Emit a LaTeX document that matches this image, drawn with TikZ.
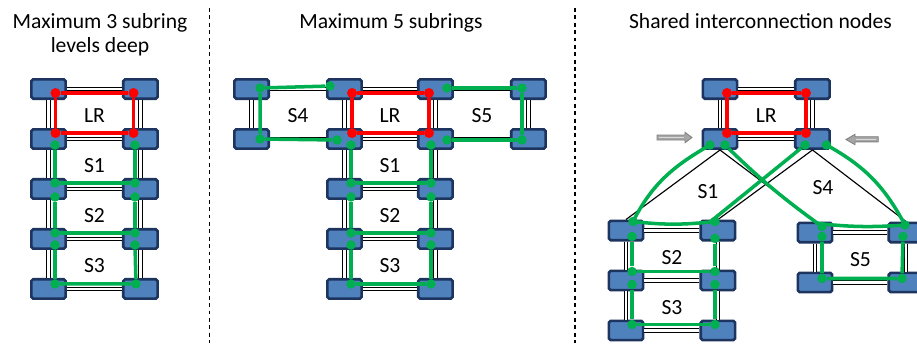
\documentclass[tikz,border=0pt]{standalone}
\usepackage{fontspec}
\setmainfont{Carlito}
\usetikzlibrary{positioning}
\usetikzlibrary{calc}

\definecolor{nodeblue}{RGB}{79,129,189}
\definecolor{nodeedge}{RGB}{28,52,94}
\definecolor{ringred}{RGB}{255,0,0}
\definecolor{ringgreen}{RGB}{0,176,80}

\begin{document}
\begin{tikzpicture}[
        % one unit is one pixel of the layout, y runs downwards
        x=0.02cm, y=-0.02cm,
        ringnode/.style={
            draw=nodeedge,
            fill=nodeblue,
            rectangle,
            rounded corners=1pt,
            line width=1.5pt,
            minimum width=0.687cm,
            minimum height=0.387cm,
            inner sep=0pt
        },
        dlink/.style={
            draw=black, double=white, line width=0.5pt, double distance=1.4pt
        },
        slink/.style={draw=black, line width=0.65pt},
        lrring/.style={draw=ringred, line width=2.1pt},
        subring/.style={draw=ringgreen, line width=2.0pt},
        rdot/.style={circle, fill=ringred, inner sep=0pt, minimum size=0.2cm},
        gdot/.style={circle, fill=ringgreen, inner sep=0pt, minimum size=0.19cm},
        ringlabel/.style={
            font=\fontsize{12.3}{13.3}\selectfont, inner sep=0pt, yshift=-0.04cm
        },
        paneltitle/.style={
            font=\fontsize{12.3}{13.3}\selectfont, align=center, anchor=north, inner sep=0pt
        },
        sepline/.style={draw=black, line width=0.7pt, dash pattern=on 2.2pt off 2pt},
        pusharrow/.style={fill=gray!70, draw=gray, line width=0.5pt},
        pushstripe/.style={draw=gray!30, line width=0.7pt}
        ]

        \useasboundingbox (0,0) rectangle (917,343);

        % titles and separators
        \node [paneltitle] (title1) at (100,13.3) {Maximum 3 subring\\levels deep};
        \node [paneltitle] (title2) at (391,13.3) {Maximum 5 subrings};
        \node [paneltitle] (title3) at (760.5,13.3) {Shared interconnection nodes};
        \draw [sepline] (209.5,8) -- (209.5,343);
        \draw [sepline] (575,8) -- (575,343);

        %%% panel 1: one stack of subrings
        \node [ringnode] (p1_l1) at (48.5,89) {};
        \node [ringnode, xshift=1.84cm] (p1_r1) at (p1_l1) {};
        \node [ringnode, yshift=-1cm] (p1_l2) at (p1_l1) {};
        \node [ringnode, yshift=-1cm] (p1_r2) at (p1_r1) {};
        \node [ringnode, yshift=-1cm] (p1_l3) at (p1_l2) {};
        \node [ringnode, yshift=-1cm] (p1_r3) at (p1_r2) {};
        \node [ringnode, yshift=-1cm] (p1_l4) at (p1_l3) {};
        \node [ringnode, yshift=-1cm] (p1_r4) at (p1_r3) {};
        \node [ringnode, yshift=-1cm] (p1_l5) at (p1_l4) {};
        \node [ringnode, yshift=-1cm] (p1_r5) at (p1_r4) {};

        \draw [dlink] (p1_l1) -- (p1_r1) (p1_l2) -- (p1_r2) (p1_l3) -- (p1_r3)
            (p1_l4) -- (p1_r4) (p1_l5) -- (p1_r5);
        \draw [dlink] (p1_l1) -- (p1_l2) (p1_l2) -- (p1_l3) (p1_l3) -- (p1_l4) (p1_l4) -- (p1_l5);
        \draw [dlink] (p1_r1) -- (p1_r2) (p1_r2) -- (p1_r3) (p1_r3) -- (p1_r4) (p1_r4) -- (p1_r5);

        \node [rdot] (p1_lr_a) at ($(p1_l1)+(7,4)$) {};
        \node [rdot] (p1_lr_b) at ($(p1_r1)+(-7,4)$) {};
        \node [rdot] (p1_lr_c) at ($(p1_r2)+(-7,-6)$) {};
        \node [rdot] (p1_lr_d) at ($(p1_l2)+(7,-6)$) {};
        \draw [lrring] (p1_lr_a) -- (p1_lr_b) -- (p1_lr_c) -- (p1_lr_d) -- (p1_lr_a);

        \node [gdot] (p1_s1_a) at ($(p1_l2)+(6.5,6)$) {};
        \node [gdot] (p1_s1_b) at ($(p1_l3)+(6.5,-6)$) {};
        \node [gdot] (p1_s1_c) at ($(p1_r3)+(-5.5,-6)$) {};
        \node [gdot] (p1_s1_d) at ($(p1_r2)+(-5.5,6)$) {};
        \draw [subring] (p1_s1_a) -- (p1_s1_b) -- (p1_s1_c) -- (p1_s1_d);

        \node [gdot] (p1_s2_a) at ($(p1_l3)+(6.5,8)$) {};
        \node [gdot] (p1_s2_b) at ($(p1_l4)+(6.5,-6)$) {};
        \node [gdot] (p1_s2_c) at ($(p1_r4)+(-5.5,-6)$) {};
        \node [gdot] (p1_s2_d) at ($(p1_r3)+(-5.5,8)$) {};
        \draw [subring] (p1_s2_a) -- (p1_s2_b) -- (p1_s2_c) -- (p1_s2_d);

        \node [gdot] (p1_s3_a) at ($(p1_l4)+(6.5,6)$) {};
        \node [gdot] (p1_s3_b) at ($(p1_l5)+(6.5,-5)$) {};
        \node [gdot] (p1_s3_c) at ($(p1_r5)+(-4.5,-5)$) {};
        \node [gdot] (p1_s3_d) at ($(p1_r4)+(-5.5,6)$) {};
        \draw [subring] (p1_s3_a) -- (p1_s3_b) -- (p1_s3_c) -- (p1_s3_d);

        \node [ringlabel] (p1_lr) at ($(p1_l1)!0.5!(p1_r2)$) {LR};
        \node [ringlabel] (p1_s1) at ($(p1_l2)!0.5!(p1_r3)$) {S1};
        \node [ringlabel] (p1_s2) at ($(p1_l3)!0.5!(p1_r4)$) {S2};
        \node [ringlabel] (p1_s3) at ($(p1_l4)!0.5!(p1_r5)$) {S3};

        %%% panel 2: two extra subrings beside the LR
        \node [ringnode] (p2_m1) at (344.5,89) {};
        \node [ringnode, xshift=1.82cm] (p2_n1) at (p2_m1) {};
        \node [ringnode, xshift=-1.86cm] (p2_w1) at (p2_m1) {};
        \node [ringnode, xshift=1.86cm] (p2_e1) at (p2_n1) {};
        \node [ringnode, yshift=-1cm] (p2_w2) at (p2_w1) {};
        \node [ringnode, yshift=-1cm] (p2_m2) at (p2_m1) {};
        \node [ringnode, yshift=-1cm] (p2_n2) at (p2_n1) {};
        \node [ringnode, yshift=-1cm] (p2_e2) at (p2_e1) {};
        \node [ringnode, yshift=-1cm] (p2_m3) at (p2_m2) {};
        \node [ringnode, yshift=-1cm] (p2_n3) at (p2_n2) {};
        \node [ringnode, yshift=-1cm] (p2_m4) at (p2_m3) {};
        \node [ringnode, yshift=-1cm] (p2_n4) at (p2_n3) {};
        \node [ringnode, yshift=-1cm] (p2_m5) at (p2_m4) {};
        \node [ringnode, yshift=-1cm] (p2_n5) at (p2_n4) {};

        \draw [dlink] (p2_w1) -- (p2_m1) (p2_m1) -- (p2_n1) (p2_n1) -- (p2_e1)
            (p2_w2) -- (p2_m2) (p2_m2) -- (p2_n2) (p2_n2) -- (p2_e2);
        \draw [dlink] (p2_m3) -- (p2_n3) (p2_m4) -- (p2_n4) (p2_m5) -- (p2_n5);
        \draw [dlink] (p2_w1) -- (p2_w2) (p2_e1) -- (p2_e2);
        \draw [dlink] (p2_m1) -- (p2_m2) (p2_m2) -- (p2_m3) (p2_m3) -- (p2_m4) (p2_m4) -- (p2_m5);
        \draw [dlink] (p2_n1) -- (p2_n2) (p2_n2) -- (p2_n3) (p2_n3) -- (p2_n4) (p2_n4) -- (p2_n5);

        \node [rdot] (p2_lr_a) at ($(p2_m1)+(7.5,4)$) {};
        \node [rdot] (p2_lr_b) at ($(p2_n1)+(-6.5,4)$) {};
        \node [rdot] (p2_lr_c) at ($(p2_n2)+(-6.5,-6)$) {};
        \node [rdot] (p2_lr_d) at ($(p2_m2)+(7.5,-6)$) {};
        \draw [lrring] (p2_lr_a) -- (p2_lr_b) -- (p2_lr_c) -- (p2_lr_d) -- (p2_lr_a);

        \node [gdot] (p2_s4_a) at ($(p2_m1)+(-14.5,-3)$) {};
        \node [gdot] (p2_s4_b) at ($(p2_w1)+(8.5,-1)$) {};
        \node [gdot] (p2_s4_c) at ($(p2_w2)+(8.5,0)$) {};
        \node [gdot] (p2_s4_d) at ($(p2_m2)+(-7.5,1)$) {};
        \draw [subring] (p2_s4_a) -- (p2_s4_b) -- (p2_s4_c) -- (p2_s4_d);

        \node [gdot] (p2_s5_a) at ($(p2_n1)+(11.5,-1)$) {};
        \node [gdot] (p2_s5_b) at ($(p2_e1)+(-6.5,-1)$) {};
        \node [gdot] (p2_s5_c) at ($(p2_e2)+(-6.5,1)$) {};
        \node [gdot] (p2_s5_d) at ($(p2_n2)+(11.5,1)$) {};
        \draw [subring] (p2_s5_a) -- (p2_s5_b) -- (p2_s5_c) -- (p2_s5_d);

        \node [gdot] (p2_s1_a) at ($(p2_m2)+(6.5,6)$) {};
        \node [gdot] (p2_s1_b) at ($(p2_m3)+(6.5,-6)$) {};
        \node [gdot] (p2_s1_c) at ($(p2_n3)+(-4.5,-6)$) {};
        \node [gdot] (p2_s1_d) at ($(p2_n2)+(-4.5,6)$) {};
        \draw [subring] (p2_s1_a) -- (p2_s1_b) -- (p2_s1_c) -- (p2_s1_d);

        \node [gdot] (p2_s2_a) at ($(p2_m3)+(6.5,8)$) {};
        \node [gdot] (p2_s2_b) at ($(p2_m4)+(6.5,-6)$) {};
        \node [gdot] (p2_s2_c) at ($(p2_n4)+(-4.5,-6)$) {};
        \node [gdot] (p2_s2_d) at ($(p2_n3)+(-4.5,8)$) {};
        \draw [subring] (p2_s2_a) -- (p2_s2_b) -- (p2_s2_c) -- (p2_s2_d);

        \node [gdot] (p2_s3_a) at ($(p2_m4)+(6.5,6)$) {};
        \node [gdot] (p2_s3_b) at ($(p2_m5)+(6.5,-5)$) {};
        \node [gdot] (p2_s3_c) at ($(p2_n5)+(-4.5,-5)$) {};
        \node [gdot] (p2_s3_d) at ($(p2_n4)+(-4.5,6)$) {};
        \draw [subring] (p2_s3_a) -- (p2_s3_b) -- (p2_s3_c) -- (p2_s3_d);

        \node [ringlabel] (p2_s4) at ($(p2_w1)!0.5!(p2_m2)$) {S4};
        \node [ringlabel] (p2_lr) at ($(p2_m1)!0.5!(p2_n2)$) {LR};
        \node [ringlabel] (p2_s5) at ($(p2_n1)!0.5!(p2_e2)$) {S5};
        \node [ringlabel] (p2_s1) at ($(p2_m2)!0.5!(p2_n3)$) {S1};
        \node [ringlabel] (p2_s2) at ($(p2_m3)!0.5!(p2_n4)$) {S2};
        \node [ringlabel] (p2_s3) at ($(p2_m4)!0.5!(p2_n5)$) {S3};

        %%% panel 3: subrings sharing the two LR nodes
        \node [ringnode] (p3_l1) at (720,89) {};
        \node [ringnode, xshift=1.85cm] (p3_r1) at (p3_l1) {};
        \node [ringnode, yshift=-1cm] (p3_l2) at (p3_l1) {};
        \node [ringnode, yshift=-1cm] (p3_r2) at (p3_r1) {};

        \node [ringnode] (p3_a1) at (626,230.5) {};
        \node [ringnode, xshift=1.84cm] (p3_b1) at (p3_a1) {};
        \node [ringnode, yshift=-1cm] (p3_a2) at (p3_a1) {};
        \node [ringnode, yshift=-1cm] (p3_b2) at (p3_b1) {};
        \node [ringnode, yshift=-1cm] (p3_a3) at (p3_a2) {};
        \node [ringnode, yshift=-1cm] (p3_b3) at (p3_b2) {};

        \node [ringnode] (p3_c1) at (815,232.5) {};
        \node [ringnode, xshift=1.82cm] (p3_d1) at (p3_c1) {};
        \node [ringnode, yshift=-1cm] (p3_c2) at (p3_c1) {};
        \node [ringnode, yshift=-1cm] (p3_d2) at (p3_d1) {};

        % the two grey pointers at the shared nodes
        \filldraw [pusharrow] (657,135) -- (685,135) -- (685,132.3) -- (692,137.5)
            -- (685,142.7) -- (685,140) -- (657,140) -- cycle;
        \draw [pushstripe] (659,137.5) -- (684,137.5);
        \filldraw [pusharrow] (878.3,136.7) -- (855,136.7) -- (855,134.3) -- (846,139.5)
            -- (855,144.7) -- (855,141.9) -- (878.3,141.9) -- cycle;
        \draw [pushstripe] (876.3,139.3) -- (856,139.3);

        \draw [dlink] (p3_l1) -- (p3_r1) (p3_l2) -- (p3_r2) (p3_l1) -- (p3_l2) (p3_r1) -- (p3_r2);
        \draw [dlink] (p3_a1) -- (p3_b1) (p3_a2) -- (p3_b2) (p3_a3) -- (p3_b3);
        \draw [dlink] (p3_a1) -- (p3_a2) (p3_a2) -- (p3_a3) (p3_b1) -- (p3_b2) (p3_b2) -- (p3_b3);
        \draw [dlink] (p3_c1) -- (p3_d1) (p3_c2) -- (p3_d2) (p3_c1) -- (p3_c2) (p3_d1) -- (p3_d2);
        \draw [slink] (p3_l2.south) -- (p3_a1.north);
        \draw [slink] (p3_r2.south) -- (p3_b1.north);
        \draw [slink] (p3_l2.south) -- (p3_c1.north);
        \draw [slink] (p3_r2.south) -- (p3_d1.north);

        \node [rdot] (p3_lr_a) at ($(p3_l1)+(7,4)$) {};
        \node [rdot] (p3_lr_b) at ($(p3_r1)+(-6.5,4)$) {};
        \node [rdot] (p3_lr_c) at ($(p3_r2)+(-6.5,-6)$) {};
        \node [rdot] (p3_lr_d) at ($(p3_l2)+(7,-6)$) {};
        \draw [lrring] (p3_lr_a) -- (p3_lr_b) -- (p3_lr_c) -- (p3_lr_d) -- (p3_lr_a);

        \node [gdot] (p3_s1_a) at ($(p3_l2)+(-10,6)$) {};
        \node [gdot] (p3_s1_b) at ($(p3_a1)+(7,-9)$) {};
        \node [gdot] (p3_s1_c) at ($(p3_b1)+(-3,-9)$) {};
        \node [gdot] (p3_s1_d) at ($(p3_r2)+(-7.5,6)$) {};
        \draw [subring] (p3_s1_a.center) to[out=210, in=63] (p3_s1_b.center)
            to[bend right=6] (p3_s1_c) -- (p3_s1_d);

        \node [gdot] (p3_s4_a) at ($(p3_l2)+(5,6)$) {};
        \node [gdot] (p3_s4_b) at ($(p3_c1)+(7,-6)$) {};
        \node [gdot] (p3_s4_c) at ($(p3_d1)+(-1,-7.5)$) {};
        \node [gdot] (p3_s4_d) at ($(p3_r2)+(14,6)$) {};
        \draw [subring] (p3_s4_a) to[bend right=4] (p3_s4_b) to[bend right=5] (p3_s4_c.center)
            to[out=118, in=-29] (p3_s4_d.center);

        \node [gdot] (p3_s2_a) at ($(p3_a1)+(6,6)$) {};
        \node [gdot] (p3_s2_b) at ($(p3_a2)+(6,-9)$) {};
        \node [gdot] (p3_s2_c) at ($(p3_b2)+(-3,-9)$) {};
        \node [gdot] (p3_s2_d) at ($(p3_b1)+(-3,8)$) {};
        \draw [subring] (p3_s2_a) -- (p3_s2_b) -- (p3_s2_c) -- (p3_s2_d);

        \node [gdot] (p3_s3_a) at ($(p3_a2)+(6,4)$) {};
        \node [gdot] (p3_s3_b) at ($(p3_a3)+(6,-6)$) {};
        \node [gdot] (p3_s3_c) at ($(p3_b3)+(-3,-6)$) {};
        \node [gdot] (p3_s3_d) at ($(p3_b2)+(-3,4)$) {};
        \draw [subring] (p3_s3_a) -- (p3_s3_b) -- (p3_s3_c) -- (p3_s3_d);

        \node [gdot] (p3_s5_a) at ($(p3_c1)+(7,4)$) {};
        \node [gdot] (p3_s5_b) at ($(p3_c2)+(7,-4)$) {};
        \node [gdot] (p3_s5_c) at ($(p3_d2)+(-4,-4)$) {};
        \node [gdot] (p3_s5_d) at ($(p3_d1)+(-3,4)$) {};
        \draw [subring] (p3_s5_a) -- (p3_s5_b) -- (p3_s5_c) -- (p3_s5_d);

        \node [ringlabel] (p3_lr) at ($(p3_l1)!0.5!(p3_r2)$) {LR};
        \node [ringlabel] (p3_s1) at ($(p3_l2)+(-12,51)$) {S1};
        \node [ringlabel] (p3_s4) at ($(p3_r2)+(10.5,47)$) {S4};
        \node [ringlabel] (p3_s2) at ($(p3_a1)!0.5!(p3_b2)$) {S2};
        \node [ringlabel] (p3_s3) at ($(p3_a2)!0.5!(p3_b3)$) {S3};
        \node [ringlabel] (p3_s5) at ($(p3_c1)!0.5!(p3_d2)$) {S5};
\end{tikzpicture}
\end{document}
